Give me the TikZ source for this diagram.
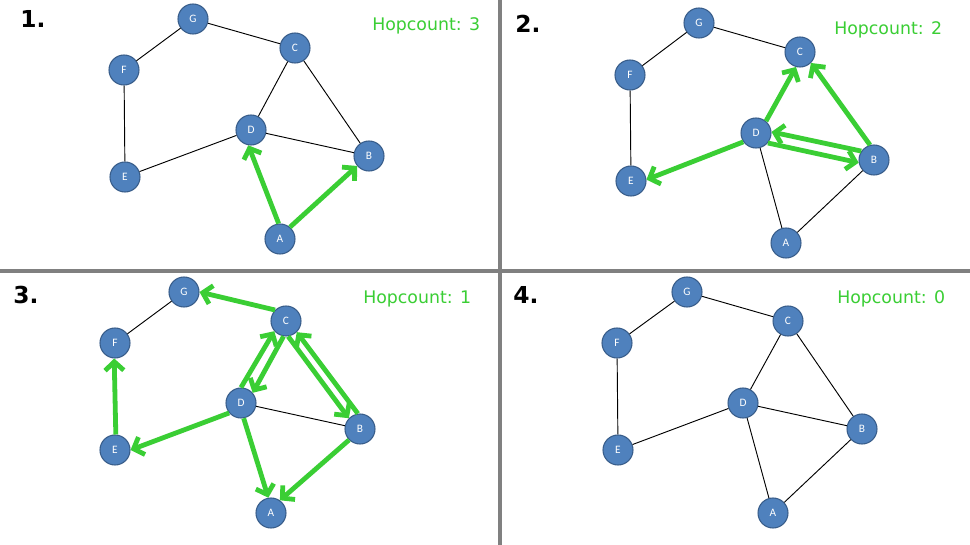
\documentclass[tikz,border=0pt]{standalone}
\usepackage{fontspec}
\setmainfont{DejaVu Sans}
\newfontfamily\nodefont{Carlito}
\usetikzlibrary{arrows.meta}
\definecolor{nodeblue}{RGB}{79,129,189}
\definecolor{nodeline}{RGB}{56,93,138}
\definecolor{hopgreen}{RGB}{58,206,52}

\begin{document}
\begin{tikzpicture}[x=0.75pt, y=-0.75pt,
        vertex/.style={circle, fill=nodeblue, draw=nodeline, line width=0.8pt, minimum size=22.5pt, inner sep=0pt, text=white, font=\nodefont\fontsize{8.5}{9}\selectfont},
        edge/.style={black, line width=0.7pt},
        hop/.style={hopgreen, line width=3.6pt, -{Straight Barb[length=6.5pt, width=14pt]}},
        panelnum/.style={anchor=base west, inner sep=0pt, font=\bfseries\fontsize{17.5}{20}\selectfont},
        hoptext/.style={anchor=base west, inner sep=0pt, text=hopgreen, font=\fontsize{13}{15}\selectfont}]
        \useasboundingbox (0,0) rectangle (970,545);
        \fill[white] (0,0) rectangle (970,545);

        \draw[gray, line width=2.4pt] (500,0) -- (500,545);
        \draw[gray, line width=2.4pt] (0,271) -- (970,271);

        % panel 1
        \node[vertex] (g1) at (193,19) {G};
        \node[vertex] (c1) at (295,48) {C};
        \node[vertex] (f1) at (124,70) {F};
        \node[vertex] (d1) at (251,130) {D};
        \node[vertex] (b1) at (369,156) {B};
        \node[vertex] (e1) at (125,177) {E};
        \node[vertex] (a1) at (280,239) {A};
        \node[panelnum] (n1) at (20,28) {1.};
        \node[hoptext] (h1) at (372,30.7) {Hopcount: 3};

        \draw[edge] (g1) -- (f1);
        \draw[edge] (g1) -- (c1);
        \draw[edge] (f1) -- (e1);
        \draw[edge] (e1) -- (d1);
        \draw[edge] (d1) -- (c1);
        \draw[edge] (d1) -- (b1);
        \draw[edge] (c1) -- (b1);
        \draw[hop] (a1.95) -- (d1.-100);
        \draw[hop] (a1.50) -- (b1.220);

        % panel 2
        \node[vertex] (g2) at (699,23) {G};
        \node[vertex] (c2) at (800,52) {C};
        \node[vertex] (f2) at (630,75) {F};
        \node[vertex] (d2) at (756,133) {D};
        \node[vertex] (b2) at (874,160) {B};
        \node[vertex] (e2) at (631,181) {E};
        \node[vertex] (a2) at (786,243) {A};
        \node[panelnum] (n2) at (515,33) {2.};
        \node[hoptext] (h2) at (834,34.5) {Hopcount: 2};

        \draw[edge] (g2) -- (f2);
        \draw[edge] (g2) -- (c2);
        \draw[edge] (f2) -- (e2);
        \draw[edge] (d2) -- (a2);
        \draw[edge] (a2) -- (b2);
        \draw[hop] (d2.50) -- (c2.-105);
        \draw[hop] (b2.105) -- (c2.-45);
        \draw[hop] (d2.215) -- (e2.5);
        \draw[hop] (b2.145) -- (d2.4);
        \draw[hop] (d2.-40) -- (b2.190);

        % panel 3
        \node[vertex] (g3) at (184,292) {G};
        \node[vertex] (c3) at (286,321) {C};
        \node[vertex] (f3) at (115,343) {F};
        \node[vertex] (d3) at (241,403) {D};
        \node[vertex] (b3) at (360,429) {B};
        \node[vertex] (e3) at (115,450) {E};
        \node[vertex] (a3) at (271,513) {A};
        \node[panelnum] (n3) at (13,303) {3.};
        \node[hoptext] (h3) at (363,303) {Hopcount: 1};

        \draw[edge] (g3) -- (f3);
        \draw[edge] (d3) -- (b3);
        \draw[hop] (c3.135) -- (g3.0);
        \draw[hop] (e3.87) -- (f3.-93);
        \draw[hop] (d3.220) -- (e3.0);
        \draw[hop] (d3.-80) -- (a3.100);
        \draw[hop] (b3.225) -- (a3.55);
        \draw[hop] (d3.90) -- (c3.221);
        \draw[hop] (c3.261) -- (d3.41);
        \draw[hop] (c3.-82) -- (b3.136);
        \draw[hop] (b3.98) -- (c3.-46);

        % panel 4
        \node[vertex] (g4) at (687,292) {G};
        \node[vertex] (c4) at (788,321) {C};
        \node[vertex] (f4) at (617,343) {F};
        \node[vertex] (d4) at (743,403) {D};
        \node[vertex] (b4) at (862,429) {B};
        \node[vertex] (e4) at (618,450) {E};
        \node[vertex] (a4) at (773,513) {A};
        \node[panelnum] (n4) at (513,303) {4.};
        \node[hoptext] (h4) at (837,303) {Hopcount: 0};

        \draw[edge] (g4) -- (f4);
        \draw[edge] (g4) -- (c4);
        \draw[edge] (f4) -- (e4);
        \draw[edge] (e4) -- (d4);
        \draw[edge] (d4) -- (c4);
        \draw[edge] (d4) -- (b4);
        \draw[edge] (c4) -- (b4);
        \draw[edge] (d4) -- (a4);
        \draw[edge] (a4) -- (b4);
\end{tikzpicture}
\end{document}
